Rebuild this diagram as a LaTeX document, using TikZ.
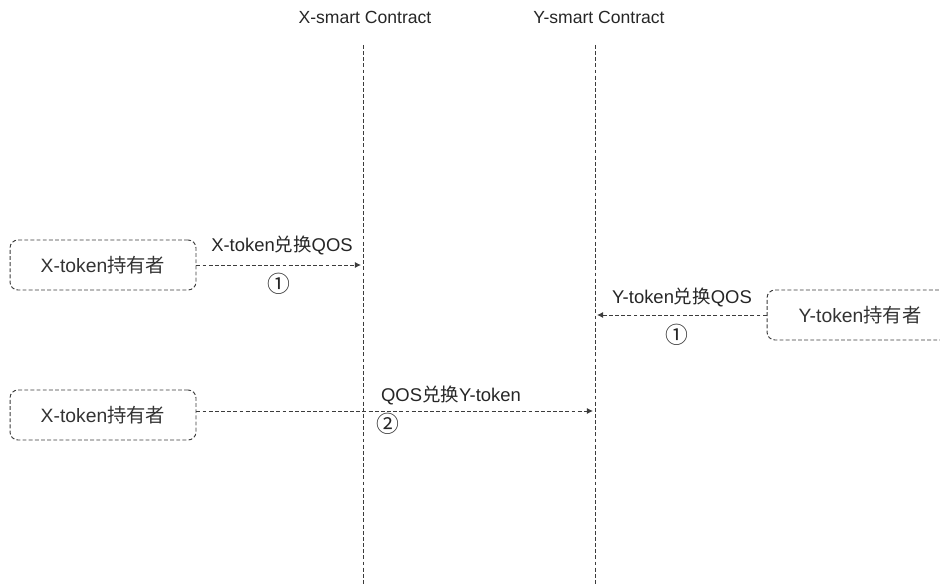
\documentclass[tikz,border=0pt]{standalone}
\usepackage{fontspec}
\usetikzlibrary{arrows.meta}
\setmainfont{Liberation Sans}
\newfontfamily\cjk{Noto Sans CJK SC}
\definecolor{linegray}{HTML}{3C3C3C}

\begin{document}
\begin{tikzpicture}[x=0.02cm, y=-0.02cm,
    holder/.style={draw=linegray, dash pattern=on 2.2pt off 1.3pt, line width=0.55pt, rounded corners=4.5pt,
        minimum width=3.72cm, minimum height=1cm, font=\fontsize{11}{13}\selectfont, text=black!80},
    lifeline/.style={draw=linegray, dash pattern=on 2.2pt off 1.3pt, line width=0.55pt},
    msg/.style={draw=linegray, dash pattern=on 2.2pt off 1.3pt, line width=0.55pt, -{Latex[length=3.5pt,width=3.5pt]}},
    lbl/.style={font=\fontsize{10.5}{12}\selectfont, text=black!85, inner sep=1pt},
    num/.style={font=\cjk\fontsize{13}{14}\selectfont, text=black!85, inner sep=1pt}]
        \useasboundingbox (0,0) rectangle (940,584);

        % contracts
        \node[lbl, font=\fontsize{10}{12}\selectfont] (xtitle) at (365,17) {X-smart Contract};
        \node[lbl, font=\fontsize{10}{12}\selectfont] (ytitle) at (599,17) {Y-smart Contract};
        \coordinate (xtop) at (363,45);
        \coordinate (xbot) at (363,584);
        \coordinate (ytop) at (595,45);
        \coordinate (ybot) at (595,584);
        \draw[lifeline] (xtop) -- (xbot);
        \draw[lifeline] (ytop) -- (ybot);

        % holders
        \node[holder] (xholder1) at (103,265) {X-token{\cjk 持有者}};
        \node[holder] (yholder) at (860,315) {Y-token{\cjk 持有者}};
        \node[holder] (xholder2) at (103,415) {X-token{\cjk 持有者}};

        % step 1
        \coordinate (xin) at (361,265);
        \draw[msg] (xholder1.east) -- (xin);
        \node[lbl] at (282,245) {X-token{\cjk 兑换}QOS};
        \node[num] at (279,284) {①};

        \coordinate (yin) at (597,315);
        \draw[msg] (yholder.west) -- (yin);
        \node[lbl] at (682,297) {Y-token{\cjk 兑换}QOS};
        \node[num] at (677,335) {①};

        % step 2
        \coordinate (yin2) at (593,411);
        \draw[msg] (xholder2.east |- yin2) -- (yin2);
        \node[lbl] at (451,395) {QOS{\cjk 兑换}Y-token};
        \node[num] at (388,424) {②};
    \end{tikzpicture}
\end{document}
